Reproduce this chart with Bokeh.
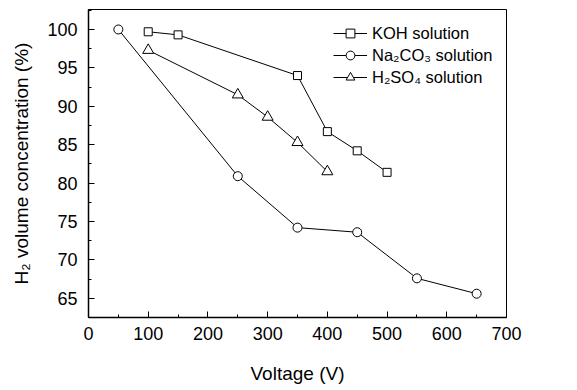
from bokeh.plotting import figure
from bokeh.models import Range1d, Legend, LegendItem, FixedTicker
from bokeh.embed import file_html
from bokeh.resources import INLINE

# Measured H2 concentration (%) against applied voltage (V)
koh_v = [100, 150, 350, 400, 450, 500]
koh_c = [99.7, 99.3, 94.0, 86.7, 84.2, 81.4]

na2co3_v = [50, 250, 350, 450, 550, 650]
na2co3_c = [100.0, 80.9, 74.2, 73.6, 67.6, 65.6]

h2so4_v = [100, 250, 300, 350, 400]
h2so4_c = [97.3, 91.5, 88.6, 85.3, 81.5]

x_ticks = [0, 100, 200, 300, 400, 500, 600, 700]
y_ticks = [65, 70, 75, 80, 85, 90, 95, 100]

FONT = "Liberation Sans"

p = figure(width=577, height=390, output_backend="svg", toolbar_location=None,
           x_range=Range1d(0, 700), y_range=Range1d(62.5, 102.6),
           min_border_left=88, min_border_right=71, min_border_top=9, min_border_bottom=73)
p.background_fill_color = "white"
p.border_fill_color = "white"
p.grid.visible = False
p.outline_line_color = "black"
p.outline_line_width = 1

r_koh_l = p.line(koh_v, koh_c, line_color="black", line_width=1)
r_koh_m = p.scatter(koh_v, koh_c, marker="square", size=8, fill_color="white",
                    line_color="black", line_width=1)
r_na_l = p.line(na2co3_v, na2co3_c, line_color="black", line_width=1)
r_na_m = p.scatter(na2co3_v, na2co3_c, marker="circle", size=9, fill_color="white",
                   line_color="black", line_width=1)
r_h_l = p.line(h2so4_v, h2so4_c, line_color="black", line_width=1)
r_h_m = p.scatter(h2so4_v, h2so4_c, marker="triangle", size=11, fill_color="white",
                  line_color="black", line_width=1)

legend = Legend(items=[
    LegendItem(label="KOH solution", renderers=[r_koh_l, r_koh_m]),
    LegendItem(label="Na\u2082CO\u2083 solution", renderers=[r_na_l, r_na_m]),
    LegendItem(label="H\u2082SO\u2084 solution", renderers=[r_h_l, r_h_m]),
], location=(245, 229))
legend.border_line_color = None
legend.background_fill_alpha = 0
legend.glyph_width = 34
legend.glyph_height = 22
legend.label_height = 22
legend.spacing = 0
legend.padding = 0
legend.margin = 0
legend.label_standoff = 5
legend.label_text_font = FONT
legend.label_text_font_size = "16.5px"
legend.label_text_color = "black"
p.add_layout(legend)

for ax in (p.xaxis[0], p.yaxis[0]):
    ax.axis_line_color = "black"
    ax.axis_line_width = 1.5
    ax.major_tick_in = 6
    ax.major_tick_out = 0
    ax.minor_tick_in = 3
    ax.minor_tick_out = 0
    ax.major_tick_line_color = "black"
    ax.minor_tick_line_color = "black"
    ax.major_label_text_font = FONT
    ax.major_label_text_font_size = "18px"
    ax.major_label_text_color = "black"
    ax.axis_label_text_font = FONT
    ax.axis_label_text_font_size = "19px"
    ax.axis_label_text_font_style = "normal"
    ax.axis_label_text_color = "black"

p.xaxis.ticker = FixedTicker(ticks=x_ticks, minor_ticks=[50, 150, 250, 350, 450, 550, 650])
p.yaxis.ticker = FixedTicker(ticks=y_ticks,
                             minor_ticks=[62.5, 67.5, 72.5, 77.5, 82.5, 87.5, 92.5, 97.5, 102.5])
p.xaxis.major_label_standoff = 9
p.yaxis.major_label_standoff = 11
p.xaxis.axis_label = "Voltage (V)"
p.yaxis.axis_label = "H\u2082 volume concentration (%)"
p.xaxis.axis_label_standoff = 20
p.yaxis.axis_label_standoff = 12

open("out.html", "w").write(file_html(p, INLINE))
